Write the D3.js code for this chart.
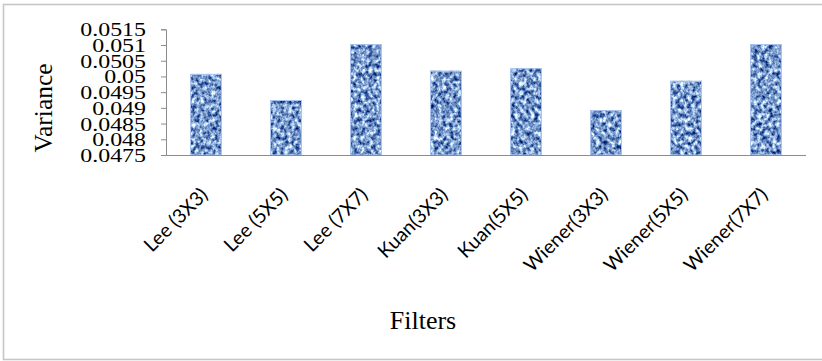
<!DOCTYPE html>
<html>
<head>
<meta charset="utf-8">
<script src="https://cdn.jsdelivr.net/npm/d3@7/dist/d3.min.js"></script>
<style>
  html, body { margin: 0; padding: 0; background: #fff; }
  svg { display: block; }
</style>
</head>
<body>
<svg id="chart" width="822" height="361"></svg>
<script>
// Variance of the despeckled image for each filter and window size
const filters = ["Lee (3X3)", "Lee (5X5)", "Lee (7X7)", "Kuan(3X3)", "Kuan(5X5)", "Wiener(3X3)", "Wiener(5X5)", "Wiener(7X7)"];
const variance = [0.05008, 0.04925, 0.05103, 0.05018, 0.05026, 0.04893, 0.04986, 0.05103];
const yTicks = [0.0475, 0.048, 0.0485, 0.049, 0.0495, 0.05, 0.0505, 0.051, 0.0515];
const yTickLabels = ["0.0475", "0.048", "0.0485", "0.049", "0.0495", "0.05", "0.0505", "0.051", "0.0515"];

const svg = d3.select("#chart");

// woven blue texture for the bars
const defs = svg.append("defs");
const f = defs.append("filter").attr("id", "weave")
  .attr("x", 0).attr("y", 0).attr("width", 1).attr("height", 1)
  .attr("color-interpolation-filters", "sRGB");
f.append("feTurbulence").attr("type", "fractalNoise")
  .attr("baseFrequency", "0.26 0.22").attr("numOctaves", 3).attr("seed", 7)
  .attr("result", "noise");
f.append("feColorMatrix").attr("in", "noise").attr("type", "matrix")
  .attr("values", "1.75 0 0 0 -0.40  1.60 0 0 0 -0.20  1.15 0 0 0 0.22  0 0 0 0 1")
  .attr("result", "tint");
f.append("feComposite").attr("in", "tint").attr("in2", "SourceGraphic").attr("operator", "in");

// outer chart frame
svg.append("rect")
  .attr("x", 3.5).attr("y", 4.5).attr("width", 820).attr("height", 355)
  .attr("fill", "none").attr("stroke", "#c6c6c6").attr("stroke-width", 1.6);

const x = d3.scaleBand().domain(filters).range([166, 806]).paddingInner(0.6).paddingOuter(0.3);
const y = d3.scaleLinear().domain([0.0475, 0.0515]).range([155, 29.3]);

// bars
svg.append("g").selectAll("rect").data(filters).join("rect")
  .attr("x", d => x(d))
  .attr("y", (d, i) => y(variance[i]))
  .attr("width", x.bandwidth())
  .attr("height", (d, i) => y(0.0475) - y(variance[i]))
  .attr("fill", "#6a8fcf")
  .attr("filter", "url(#weave)");
svg.append("g").selectAll("rect").data(filters).join("rect")
  .attr("x", d => x(d) + 0.5)
  .attr("y", (d, i) => y(variance[i]) + 0.5)
  .attr("width", x.bandwidth() - 1)
  .attr("height", (d, i) => y(0.0475) - y(variance[i]) - 0.5)
  .attr("fill", "none").attr("stroke", "#a9c4ee").attr("stroke-width", 1);

// value axis
const yAxis = svg.append("g").attr("transform", "translate(166,0)")
  .call(d3.axisLeft(y).tickValues(yTicks).tickSize(5).tickPadding(15)
    .tickFormat((d, i) => yTickLabels[i]));
yAxis.select(".domain").attr("stroke", "#8c8c8c");
yAxis.selectAll(".tick line").attr("stroke", "#8c8c8c");
yAxis.selectAll(".tick text")
  .attr("font-family", "'Liberation Serif', 'Times New Roman', serif")
  .attr("font-size", 18).attr("fill", "#000")
  .attr("x", -20 / 1.33).attr("dy", "0.36em")
  .attr("transform", "scale(1.33,1)");

// category axis
const xAxis = svg.append("g").attr("transform", "translate(0,155)")
  .call(d3.axisBottom(x).tickSize(0).tickPadding(0));
xAxis.select(".domain").attr("stroke", "#8c8c8c").attr("d", "M166,0.5H806");
xAxis.selectAll(".tick text")
  .attr("font-family", "Lato, 'Open Sans', sans-serif")
  .attr("font-size", 19.5).attr("fill", "#000")
  .attr("text-anchor", "end")
  .attr("y", 0).attr("dy", 0)
  .attr("transform", "translate(3,41) rotate(-45)");

// axis titles
svg.append("text")
  .attr("transform", "translate(52,108) rotate(-90)")
  .attr("text-anchor", "middle")
  .attr("font-family", "'Liberation Serif', 'Times New Roman', serif")
  .attr("font-size", 25.5).attr("fill", "#000")
  .text("Variance");
svg.append("text")
  .attr("x", 423).attr("y", 329)
  .attr("text-anchor", "middle")
  .attr("font-family", "'Liberation Serif', 'Times New Roman', serif")
  .attr("font-size", 26).attr("fill", "#000")
  .text("Filters");
</script>
</body>
</html>
